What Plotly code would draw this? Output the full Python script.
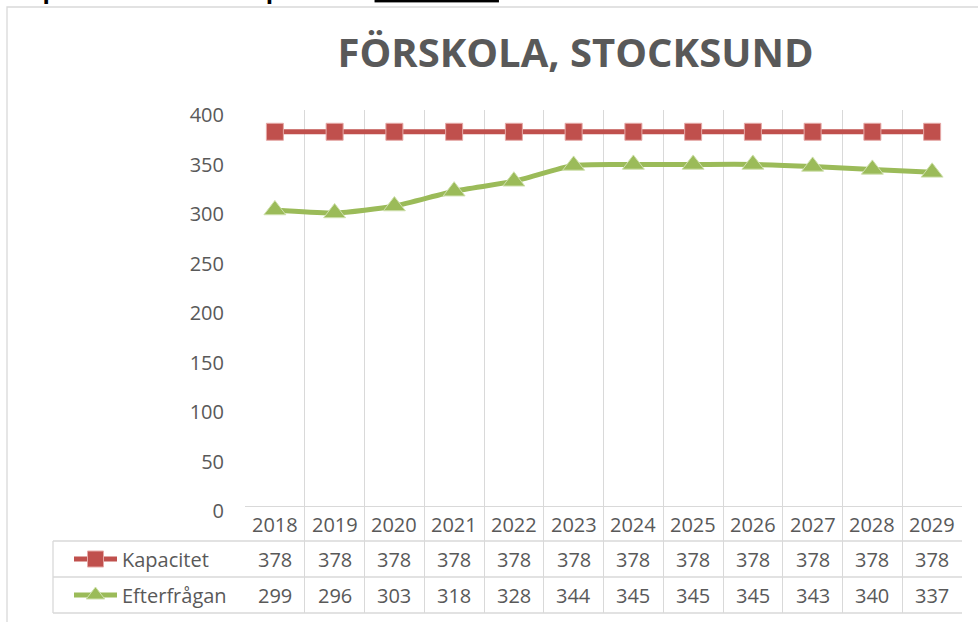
import plotly.graph_objects as go

# ---------------- data ----------------
years = ["2018", "2019", "2020", "2021", "2022", "2023",
         "2024", "2025", "2026", "2027", "2028", "2029"]
kapacitet = [378, 378, 378, 378, 378, 378, 378, 378, 378, 378, 378, 378]
efterfragan = [299, 296, 303, 318, 328, 344, 345, 345, 345, 343, 340, 337]
y_ticks = [0, 50, 100, 150, 200, 250, 300, 350, 400]
series_names = ["Kapacitet", "Efterfrågan"]
chart_title = "FÖRSKOLA, STOCKSUND"
heading = "<b>Kapacitet av förskoleplatser – <u>Stocksund</u></b>"

# ---------------- layout constants (pixels) ----------------
W, H = 978, 622
PLOT_L, PLOT_R = 245, 962
PLOT_T = 110          # value 400
ZERO_Y = 506          # value 0
TABLE_BOTTOM = 613
ROW_YEAR = 524
ROW_K = 559
ROW_E = 595
LEG_LEFT = 53

GREY_TXT = "#595959"
GRID = "#d9d9d9"
RED = "#c0504d"
GREEN = "#9bbb59"
FONT = "Open Sans"


def px(x):
    return x / W


def py(y):
    return 1 - y / H


units_per_px = 400 / (ZERO_Y - PLOT_T)
y_min = -(TABLE_BOTTOM - ZERO_Y) * units_per_px

fig = go.Figure()

fig.add_trace(go.Scatter(
    x=years, y=kapacitet, name=series_names[0], mode="lines+markers",
    line=dict(color=RED, width=5),
    marker=dict(symbol="square", size=17, color=RED,
                line=dict(color="#e6a9a7", width=1)),
    legend="legend", cliponaxis=False,
))
fig.add_trace(go.Scatter(
    x=years, y=efterfragan, name=series_names[1], mode="lines+markers",
    line=dict(color=GREEN, width=5, shape="spline", smoothing=0.6),
    marker=dict(symbol="triangle-up", size=19, color=GREEN,
                line=dict(color="#cfe0ad", width=1)),
    legend="legend2", cliponaxis=False,
))

annotations = []
# year row and value rows of the data table (x given as category index)
for i, yr in enumerate(years):
    for row_y, txt in ((ROW_YEAR, yr),
                       (ROW_K, str(kapacitet[i])),
                       (ROW_E, str(efterfragan[i]))):
        annotations.append(dict(x=i, xref="x", xanchor="center",
                                y=py(row_y), yref="paper", yanchor="middle",
                                text=txt, showarrow=False,
                                font=dict(family=FONT, size=20, color=GREY_TXT)))

# partially visible heading above the chart frame
annotations.append(dict(x=px(10), xref="paper", xanchor="left",
                        y=py(7), yref="paper", yanchor="bottom",
                        text=heading, showarrow=False,
                        font=dict(family=FONT, size=24, color="#000000")))

shapes = [
    # outer chart frame
    dict(type="rect", xref="paper", yref="paper",
         x0=px(7), x1=px(W + 20), y0=py(7), y1=py(H + 20),
         line=dict(color=GRID, width=1.3), layer="below"),
]
# table horizontal lines
for yy in (541, 577, 613):
    shapes.append(dict(type="line", xref="paper", yref="paper",
                       x0=px(LEG_LEFT), x1=px(PLOT_R), y0=py(yy), y1=py(yy),
                       line=dict(color=GRID, width=1.3), layer="below"))
shapes.append(dict(type="line", xref="paper", yref="paper",
                   x0=px(LEG_LEFT), x1=px(LEG_LEFT), y0=py(541), y1=py(613),
                   line=dict(color=GRID, width=1.3), layer="below"))

fig.update_layout(
    width=W, height=H, autosize=False,
    margin=dict(l=0, r=0, t=0, b=0, autoexpand=False),
    paper_bgcolor="white", plot_bgcolor="white",
    font=dict(family=FONT, size=20, color=GREY_TXT),
    title=dict(text=chart_title, x=px(575.5), xanchor="center",
               y=py(52.5), yanchor="middle", automargin=False,
               font=dict(family=FONT, size=40, color=GREY_TXT, weight="bold")),
    xaxis=dict(type="category", categoryorder="array", categoryarray=years,
               range=[-0.5, len(years) - 0.5],
               domain=[px(PLOT_L), px(PLOT_R)],
               tickson="boundaries", showgrid=True, gridcolor=GRID, gridwidth=1.3,
               showticklabels=False, ticks="", showline=False, zeroline=False,
               automargin=False),
    yaxis=dict(range=[y_min, 400], domain=[py(TABLE_BOTTOM), py(PLOT_T)],
               tickvals=y_ticks, ticktext=[str(v) for v in y_ticks],
               showgrid=False, ticks="", showline=False,
               zeroline=True, zerolinecolor=GRID, zerolinewidth=1.3,
               ticklabelstandoff=20, ticklabelshift=5, automargin=False,
               tickfont=dict(family=FONT, size=20, color=GREY_TXT)),
    legend=dict(x=px(69), xanchor="left", y=py(ROW_K), yanchor="middle",
                itemwidth=43, bgcolor="rgba(0,0,0,0)",
                font=dict(family=FONT, size=20, color=GREY_TXT)),
    legend2=dict(x=px(69), xanchor="left", y=py(ROW_E), yanchor="middle",
                 itemwidth=43, bgcolor="rgba(0,0,0,0)",
                 font=dict(family=FONT, size=20, color=GREY_TXT)),
    annotations=annotations,
    shapes=shapes,
    showlegend=True,
)

fig.write_html("out.html", config={"displayModeBar": False},
               post_script="document.body.style.margin='0';")
